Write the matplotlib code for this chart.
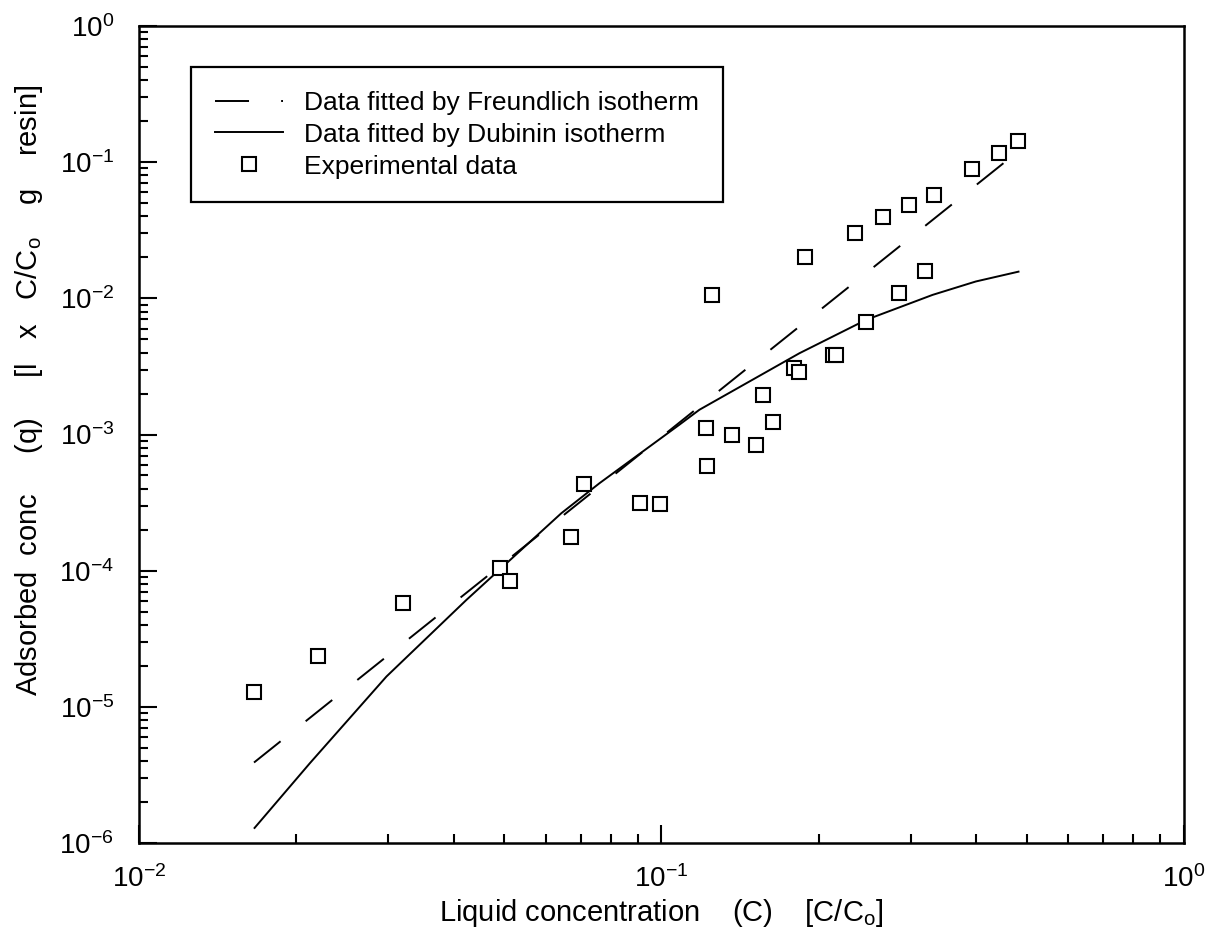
import numpy as np
import matplotlib
matplotlib.use("Agg")
import matplotlib.pyplot as plt

# Fuente parecida a la del original
plt.rcParams['font.family'] = ['Liberation Sans', 'DejaVu Sans']
plt.rcParams['mathtext.fontset'] = 'custom'
plt.rcParams['mathtext.rm'] = 'Liberation Sans'
plt.rcParams['mathtext.it'] = 'Liberation Sans'

# Datos experimentales (C/Co, q)
c_exp = [0.0166, 0.0220, 0.0320, 0.0490, 0.0512, 0.0670, 0.0710, 0.0908, 0.0995,
         0.1214, 0.1221, 0.1250, 0.1365, 0.1518, 0.1562, 0.1637, 0.1796, 0.1836,
         0.1885, 0.2126, 0.2158, 0.2350, 0.2462, 0.2649, 0.2851, 0.2980, 0.3198,
         0.3327, 0.3937, 0.4416, 0.4816]
q_exp = [1.28e-5, 2.38e-5, 5.8e-5, 1.04e-4, 8.46e-5, 1.78e-4, 4.34e-4, 3.16e-4, 3.09e-4,
         1.11e-3, 5.88e-4, 1.06e-2, 9.93e-4, 8.39e-4, 1.95e-3, 1.24e-3, 3.07e-3, 2.90e-3,
         2.02e-2, 3.84e-3, 3.84e-3, 3.04e-2, 6.75e-3, 3.98e-2, 1.10e-2, 4.85e-2, 1.60e-2,
         5.74e-2, 8.87e-2, 0.1174, 0.1438]

# Ajuste Freundlich (linea discontinua)
c_freu = [0.0166, 0.0908, 0.4766]
q_freu = [3.9e-6, 7.14e-4, 0.1162]

# Ajuste Dubinin (linea continua)
c_dub = [0.01664, 0.02124, 0.02976, 0.04233, 0.0643, 0.0761, 0.1082, 0.1182,
         0.1836, 0.2462, 0.3302, 0.3996, 0.4822]
q_dub = [1.29e-6, 3.86e-6, 1.67e-5, 6.1e-5, 2.64e-4, 4.39e-4, 1.18e-3, 1.52e-3,
         3.95e-3, 6.94e-3, 1.06e-2, 1.33e-2, 1.57e-2]

fig = plt.figure(figsize=(12.08, 9.33), dpi=100)
ax = fig.add_axes([139/1208, 1-843/933, (1184-139)/1208, (843-26)/933])

ax.plot(c_freu, q_freu, color='black', lw=1.4, dashes=(17.5, 16.5),
        label='Data fitted by Freundlich isotherm')
ax.plot(c_dub, q_dub, color='black', lw=1.4, label='Data fitted by Dubinin isotherm')
ax.plot(c_exp, q_exp, ls='none', marker='s', ms=9.5, mfc='white', mec='black', mew=1.5,
        label='Experimental data')

ax.set_xscale('log')
ax.set_yscale('log')
ax.set_xlim(1e-2, 1e0)
ax.set_ylim(1e-6, 1e0)

for s in ax.spines.values():
    s.set_linewidth(1.8)

ax.tick_params(which='both', direction='in', width=1.5, labelsize=20)
ax.tick_params(which='major', length=13, pad=16)
ax.tick_params(which='minor', length=6.5)
ax.tick_params(axis='y', which='major', pad=18)
ax.xaxis.set_minor_locator(matplotlib.ticker.LogLocator(base=10, subs=np.arange(2, 10)))
ax.yaxis.set_minor_locator(matplotlib.ticker.LogLocator(base=10, subs=np.arange(2, 10)))
ax.yaxis.set_minor_formatter(matplotlib.ticker.NullFormatter())
ax.xaxis.set_minor_formatter(matplotlib.ticker.NullFormatter())

ax.set_xlabel('Liquid concentration    (C)    [C/C$_\\mathrm{o}$]', fontsize=21)
ax.set_ylabel('Adsorbed  conc     (q)     [l   x   C/C$_\\mathrm{o}$    g    resin]', fontsize=21)
ax.xaxis.set_label_coords(0.5, -0.066)
ax.yaxis.set_label_coords(-0.09, 0.554)

leg = ax.legend(loc='upper left', bbox_to_anchor=((191-139)/1045, (843-67)/817),
                borderaxespad=0, fontsize=19, handlelength=2.6, handletextpad=0.8,
                labelspacing=0.3, fancybox=False, edgecolor='black', framealpha=1,
                borderpad=0.9)
leg.get_frame().set_linewidth(1.6)

plt.savefig('out.png', dpi=100)
